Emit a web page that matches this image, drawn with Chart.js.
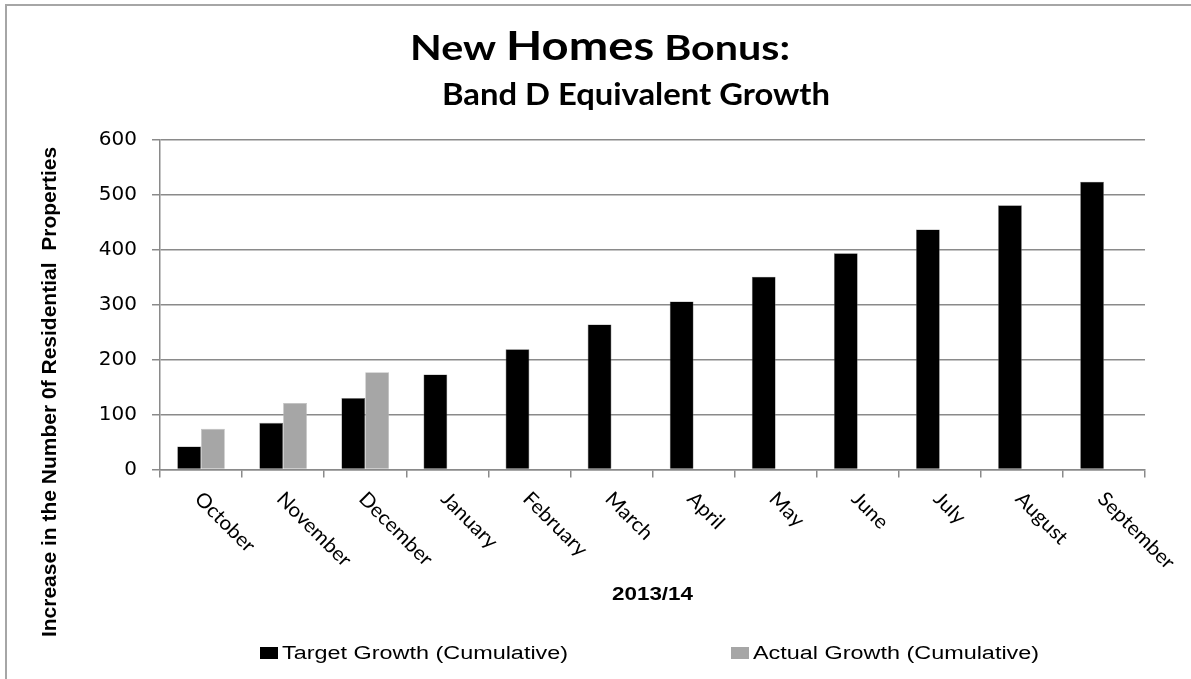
<!DOCTYPE html>
<html>
<head>
<meta charset="utf-8">
<script src="https://cdn.jsdelivr.net/npm/chart.js@4.4.1/dist/chart.umd.min.js"></script>
<style>
  html, body { margin: 0; padding: 0; background: #ffffff; }
  #wrap { position: relative; width: 1191px; height: 679px; }
  canvas { display: block; }
</style>
</head>
<body>
<div id="wrap"><canvas id="nhb" width="1191" height="679"></canvas></div>
<script>
// Months of the 2013/14 financial year
const months = ['October', 'November', 'December', 'January', 'February', 'March',
                'April', 'May', 'June', 'July', 'August', 'September'];

// Cumulative Band D equivalent growth
const targetGrowth = [42, 85, 130, 173, 219, 264, 306, 351, 394, 437, 481, 524];
const actualGrowth = [74, 121, 177, null, null, null, null, null, null, null, null, null];

const yTicks = [0, 100, 200, 300, 400, 500, 600];

const seriesNames = ['Target Growth (Cumulative)', 'Actual Growth (Cumulative)'];
const titleLine1 = ['New ', 'Homes', ' Bonus:'];
const titleLine2 = 'Band D Equivalent Growth';
const xTitle = '2013/14';
const yTitle = 'Increase in the Number 0f Residential  Properties';

const GRID = '#8a8a8a';

// Draw text widened horizontally by factor sx
function wideText(ctx, text, x, y, sx) {
  ctx.save();
  ctx.translate(x, y);
  ctx.scale(sx, 1);
  ctx.fillText(text, 0, 0);
  ctx.restore();
}

// Outer frame, titles, rotated month names and legend
const decorations = {
  id: 'decorations',
  beforeDraw(chart) {
    const ctx = chart.ctx;
    ctx.save();
    ctx.fillStyle = '#ffffff';
    ctx.fillRect(0, 0, chart.width, chart.height);
    ctx.strokeStyle = '#a6a6a6';
    ctx.lineWidth = 2;
    ctx.beginPath();
    ctx.moveTo(6, chart.height);
    ctx.lineTo(6, 5);
    ctx.lineTo(chart.width, 5);
    ctx.stroke();
    ctx.restore();
  },
  afterDraw(chart) {
    const ctx = chart.ctx;
    const area = chart.chartArea;
    const xScale = chart.scales.x;
    ctx.save();
    ctx.fillStyle = '#000000';
    ctx.textBaseline = 'alphabetic';

    // Title, first line with a larger middle word
    const small = 'bold 35px Lato';
    const big = 'bold 40px Lato';
    const fonts = [small, big, small];
    const natural = titleLine1.map((t, i) => { ctx.font = fonts[i]; return ctx.measureText(t).width; });
    const naturalTotal = natural.reduce((a, b) => a + b, 0);
    const line1Width = 380;
    const s1 = line1Width / naturalTotal;
    let x = 600 - line1Width / 2;
    ctx.textAlign = 'left';
    titleLine1.forEach((t, i) => { ctx.font = fonts[i]; wideText(ctx, t, x, 60, s1); x += natural[i] * s1; });

    ctx.font = 'bold 31px Lato';
    const line2Width = 388;
    const s2 = line2Width / ctx.measureText(titleLine2).width;
    wideText(ctx, titleLine2, 636 - line2Width / 2, 105, s2);

    // Month names, slanted down to the right
    ctx.font = '20px Lato';
    ctx.textAlign = 'left';
    ctx.textBaseline = 'middle';
    months.forEach((m, i) => {
      const px = xScale.getPixelForValue(i);
      ctx.save();
      ctx.translate(px - 3, area.bottom + 26);
      ctx.rotate(Math.PI / 4);
      ctx.scale(1.04, 1);
      ctx.fillText(m, 0, 0);
      ctx.restore();
    });

    // Axis titles
    ctx.textAlign = 'center';
    ctx.textBaseline = 'middle';
    ctx.font = 'bold 19px "Liberation Sans", Arial';
    wideText(ctx, xTitle, (area.left + area.right) / 2, 595, 1.18);
    ctx.font = 'bold 21px "Liberation Sans", Arial';
    ctx.save();
    ctx.translate(50, 392);
    ctx.rotate(-Math.PI / 2);
    ctx.fillText(yTitle, 0, 0);
    ctx.restore();

    // Legend
    const legendX = [260, 731];
    ctx.font = '18px "Liberation Sans", Arial';
    ctx.textAlign = 'left';
    ctx.textBaseline = 'middle';
    chart.data.datasets.forEach((ds, i) => {
      ctx.fillStyle = ds.backgroundColor;
      ctx.fillRect(legendX[i], 647, 18, 12);
      ctx.fillStyle = '#000000';
      wideText(ctx, ds.label, legendX[i] + 22, 654, 1.3);
    });
    ctx.restore();
  }
};

new Chart(document.getElementById('nhb'), {
  type: 'bar',
  data: {
    labels: months,
    datasets: [
      { label: seriesNames[0], data: targetGrowth, backgroundColor: '#000000',
        borderColor: '#6e6e6e', borderWidth: 0.6,
        categoryPercentage: 0.58, barPercentage: 1.0 },
      { label: seriesNames[1], data: actualGrowth, backgroundColor: '#a6a6a6',
        borderColor: '#bdbdbd', borderWidth: 0.6,
        categoryPercentage: 0.58, barPercentage: 1.0 }
    ]
  },
  options: {
    responsive: false,
    devicePixelRatio: 1,
    animation: false,
    layout: { padding: { top: 140, right: 46, bottom: 0, left: 0 } },
    plugins: {
      legend: { display: false },
      title: { display: false },
      tooltip: { enabled: false }
    },
    scales: {
      x: {
        offset: true,
        grid: { display: true, drawOnChartArea: false, drawTicks: true, tickLength: 8,
                color: GRID, lineWidth: 1.5, offset: true },
        border: { display: true, color: GRID, width: 1.5 },
        ticks: { display: false },
        afterFit(scale) { scale.height = 679 - 469.5; }
      },
      y: {
        min: 0,
        max: 600,
        afterBuildTicks(scale) { scale.ticks = yTicks.map(v => ({ value: v })); },
        grid: { color: GRID, lineWidth: 1.5, drawTicks: true, tickLength: 8 },
        border: { display: true, color: GRID, width: 1.5 },
        ticks: {
          padding: 15,
          color: '#000000',
          font: { family: '"DejaVu Sans"', size: 20 }
        },
        afterFit(scale) { scale.width = 160; }
      }
    }
  },
  plugins: [decorations]
});
</script>
</body>
</html>
